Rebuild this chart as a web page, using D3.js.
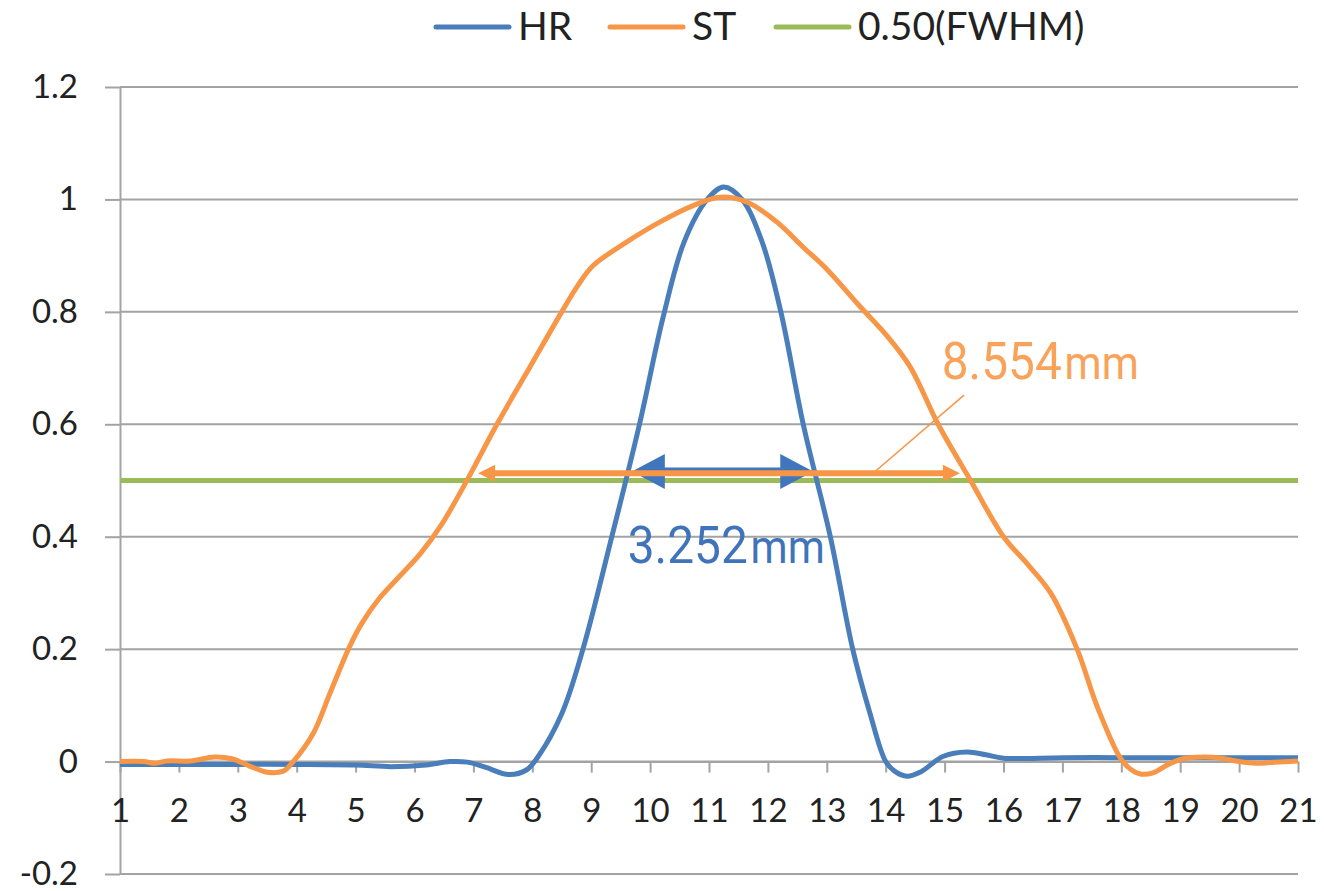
<!DOCTYPE html>
<html>
<head>
<meta charset="utf-8">
<script src="https://cdn.jsdelivr.net/npm/d3@7"></script>
<style>
  body { margin: 0; background: #fff; }
  .axis text { font-family: Lato, "Open Sans", sans-serif; font-size: 33px; fill: #222; }
  .axis path, .axis line { stroke: #a3a3a3; stroke-width: 2; }
</style>
</head>
<body>
<div id="chart"></div>
<script>
// HR profile (x position, relative value)
var hrX = [1, 2, 3, 4, 5, 5.6, 6.2, 6.6, 6.9, 7.2, 7.6, 7.9, 8.1, 8.5, 8.86, 9.35,
           9.82, 10.22, 10.58, 10.97, 11.25, 11.56, 11.9, 12.22, 12.6, 13.06, 13.44,
           13.73, 14.0, 14.15, 14.36, 14.6, 14.97, 15.38, 15.7, 16, 17, 18, 19, 20, 21];
var hrY = [-0.005, -0.005, -0.005, -0.005, -0.006, -0.009, -0.006, 0.0, -0.001, -0.01, -0.023, -0.015, 0.009, 0.085, 0.2, 0.4,
           0.6, 0.79, 0.925, 1.0, 1.022, 1.0, 0.925, 0.8, 0.6, 0.4, 0.2,
           0.087, 0.0, -0.017, -0.026, -0.018, 0.009, 0.017, 0.012, 0.006, 0.007, 0.007, 0.007, 0.007, 0.007];

// ST profile
var stX = [1, 1.4, 1.6, 1.8, 2.2, 2.6, 2.9, 3.2, 3.5, 3.77, 3.94, 4.28, 4.57, 4.9, 5.1,
           5.4, 5.75, 6.1, 6.45, 6.9, 7.4, 7.95, 8.5, 8.78, 9.03, 9.6, 10.17, 10.73,
           11.19, 11.65, 12.15, 12.6, 13.0, 13.56, 14.0, 14.41, 14.89, 15.43, 16.0, 16.4,
           16.8, 17.25, 17.59, 17.98, 18.15, 18.32, 18.54, 18.8, 19.05, 19.4, 19.7,
           20.0, 20.3, 20.6, 21];
var stY = [0.0, 0.0, -0.003, 0.001, 0.001, 0.008, 0.005, -0.008, -0.019, -0.017, 0.0, 0.05, 0.123, 0.205, 0.245,
           0.29, 0.33, 0.37, 0.42, 0.502, 0.6, 0.7, 0.8, 0.848, 0.882, 0.924, 0.96, 0.989,
           1.004, 0.995, 0.96, 0.915, 0.876, 0.81, 0.76, 0.703, 0.6, 0.502, 0.4, 0.352,
           0.3, 0.2, 0.098, 0.007, -0.013, -0.022, -0.02, -0.005, 0.005, 0.008, 0.006,
           0.0, -0.003, -0.001, 0.001];

var fwhmLevel = 0.5;

var xTicks = d3.range(1, 22);
var yTicks = [-0.2, 0, 0.2, 0.4, 0.6, 0.8, 1, 1.2];
var yTickLabels = ["-0.2", "0", "0.2", "0.4", "0.6", "0.8", "1", "1.2"];

var seriesNames = ["HR", "ST", "0.50(FWHM)"];
var seriesColors = ["#4a7ebb", "#f79646", "#9bbb59"];

// FWHM annotations: arrow ends, arrow level, label anchor, label text
var hrArrowX = [9.69, 12.77], hrArrowY = 0.516;
var stArrowX = [7.08, 15.26], stArrowY = 0.513;
var stLeader = [[13.82, 0.516], [15.33, 0.652]];
var hrLabel = [9.62, 0.353, "3.252", "mm"];
var stLabel = [14.95, 0.68, "8.554", "mm"];

var w = 1324, h = 891;

var x = d3.scaleLinear().domain([1, 21]).range([120, 1298]);
var y = d3.scaleLinear().domain([-0.2, 1.2]).range([874, 87]);

var svg = d3.select("#chart")
    .append("svg")
    .attr("width", w)
    .attr("height", h);

///////// GRID /////////
svg.append("g")
    .selectAll("line")
    .data(yTicks)
    .enter()
    .append("line")
    .attr("x1", x(1))
    .attr("x2", x(21))
    .attr("y1", function(d) { return y(d); })
    .attr("y2", function(d) { return y(d); })
    .style("stroke", "#a3a3a3")
    .style("stroke-width", 2);

///////// AXES /////////
var yaxis = d3.axisLeft(y)
    .tickValues(yTicks)
    .tickSize(15)
    .tickSizeOuter(0)
    .tickPadding(27)
    .tickFormat(function(d, i) { return yTickLabels[i]; });

svg.append("g")
    .attr("class", "axis")
    .attr("transform", "translate(" + x(1) + ",0)")
    .call(yaxis);

var xaxis = d3.axisBottom(x)
    .tickValues(xTicks)
    .tickSize(11)
    .tickSizeOuter(0)
    .tickPadding(26)
    .tickFormat(d3.format("d"));

svg.append("g")
    .attr("class", "axis")
    .attr("transform", "translate(0," + y(0) + ")")
    .call(xaxis);

///////// LINES /////////
var line = d3.line()
    .x(function(d) { return x(d[0]); })
    .y(function(d) { return y(d[1]); })
    .curve(d3.curveCatmullRom.alpha(0.5));

svg.append("line")
    .attr("x1", x(1))
    .attr("x2", x(21))
    .attr("y1", y(fwhmLevel))
    .attr("y2", y(fwhmLevel))
    .style("stroke", seriesColors[2])
    .style("stroke-width", 5);

svg.append("path")
    .datum(d3.zip(hrX, hrY))
    .attr("d", line)
    .style("fill", "none")
    .style("stroke", seriesColors[0])
    .style("stroke-width", 5)
    .style("stroke-linejoin", "round");

svg.append("path")
    .datum(d3.zip(stX, stY))
    .attr("d", line)
    .style("fill", "none")
    .style("stroke", seriesColors[1])
    .style("stroke-width", 5)
    .style("stroke-linejoin", "round");

///////// ANNOTATIONS /////////
function doubleArrow(xs, yv, color, shaft, headLen, headHalf) {
    var x1 = x(xs[0]), x2 = x(xs[1]), py = y(yv);
    svg.append("line")
        .attr("x1", x1 + headLen - 1)
        .attr("x2", x2 - headLen + 1)
        .attr("y1", py)
        .attr("y2", py)
        .style("stroke", color)
        .style("stroke-width", shaft);
    svg.append("path")
        .attr("d", "M" + x1 + "," + py + "L" + (x1 + headLen) + "," + (py - headHalf) +
                   "L" + (x1 + headLen) + "," + (py + headHalf) + "Z" +
                   "M" + x2 + "," + py + "L" + (x2 - headLen) + "," + (py - headHalf) +
                   "L" + (x2 - headLen) + "," + (py + headHalf) + "Z")
        .style("fill", color);
}

doubleArrow(hrArrowX, hrArrowY, "#4176bc", 8, 33, 17.5);
doubleArrow(stArrowX, stArrowY, "#f79646", 6, 17, 8.5);

svg.append("line")
    .attr("x1", x(stLeader[0][0]))
    .attr("y1", y(stLeader[0][1]))
    .attr("x2", x(stLeader[1][0]))
    .attr("y2", y(stLeader[1][1]))
    .style("stroke", "#f79646")
    .style("stroke-width", 1.6);

// narrow-looking label: big number, smaller unit
function fwhmLabel(lab, color) {
    var t = svg.append("text")
        .attr("transform", "translate(" + x(lab[0]) + "," + y(lab[1]) + ") scale(0.92,1)")
        .attr("font-family", "Roboto, sans-serif")
        .attr("fill", color);
    t.append("tspan")
        .attr("font-size", "52px")
        .text(lab[2]);
    t.append("tspan")
        .attr("font-size", "46px")
        .attr("dx", 3)
        .text(lab[3]);
}

fwhmLabel(hrLabel, "#3f74ba");
fwhmLabel(stLabel, "#f8a25a");

///////// LEGEND /////////
var legendX = [436, 610, 776];
var legend = svg.append("g")
    .selectAll("g")
    .data(seriesNames)
    .enter()
    .append("g")
    .attr("transform", function(d, i) { return "translate(" + legendX[i] + ",27)"; });

legend.append("line")
    .attr("x1", 0)
    .attr("x2", 73)
    .style("stroke", function(d, i) { return seriesColors[i]; })
    .style("stroke-width", 5)
    .style("stroke-linecap", "round");

legend.append("text")
    .attr("x", 82)
    .attr("y", 13)
    .attr("font-family", "Lato, sans-serif")
    .attr("font-size", "39px")
    .attr("fill", "#222")
    .text(function(d) { return d; });
</script>
</body>
</html>
